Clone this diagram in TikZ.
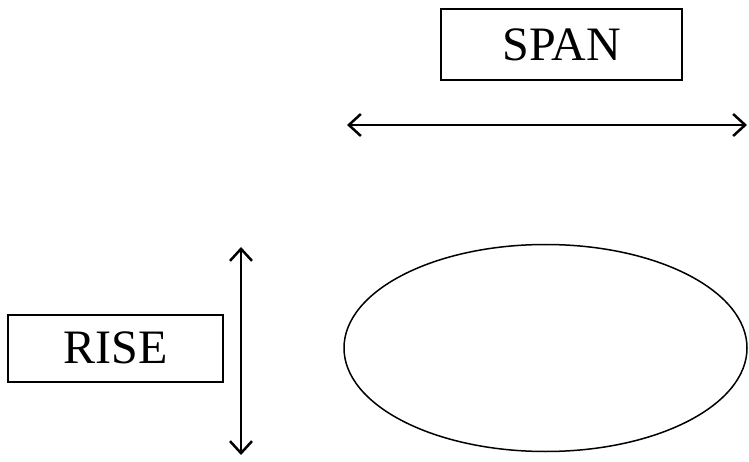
\documentclass[tikz,border=0pt]{standalone}
\usepackage{fontspec}
\setmainfont{Liberation Serif}
\usetikzlibrary{arrows.meta,shapes.geometric}
\begin{document}
\begin{tikzpicture}[x=1pt,y=-1pt,
  labelbox/.style={draw,line width=2pt,inner sep=0pt,
    font=\fontsize{48}{58}\selectfont},
  dimarrow/.style={line width=2.5pt,
    {Straight Barb[length=12pt,width=22pt,line width=2.5pt]}-{Straight Barb[length=12pt,width=22pt,line width=2.5pt]}}]
  \useasboundingbox (0,0) rectangle (749,462);
  % labels
  \node[labelbox,minimum width=241pt,minimum height=71pt] (span) at (561.5,44.5) {SPAN};
  \node[labelbox,minimum width=215pt,minimum height=67pt] (rise) at (115.5,348) {RISE};
  % the opening
  \node[draw,ellipse,line width=1.5pt,inner sep=0pt,
        minimum width=403pt,minimum height=207pt] (arch) at (545.5,348) {};
  % span dimension
  \coordinate (sl) at (347,125);
  \coordinate (sr) at (747,125);
  \draw[dimarrow] (sl) -- (sr);
  % rise dimension
  \coordinate (rt) at (241,247);
  \coordinate (rb) at (241,455);
  \draw[dimarrow] (rt) -- (rb);
\end{tikzpicture}
\end{document}
